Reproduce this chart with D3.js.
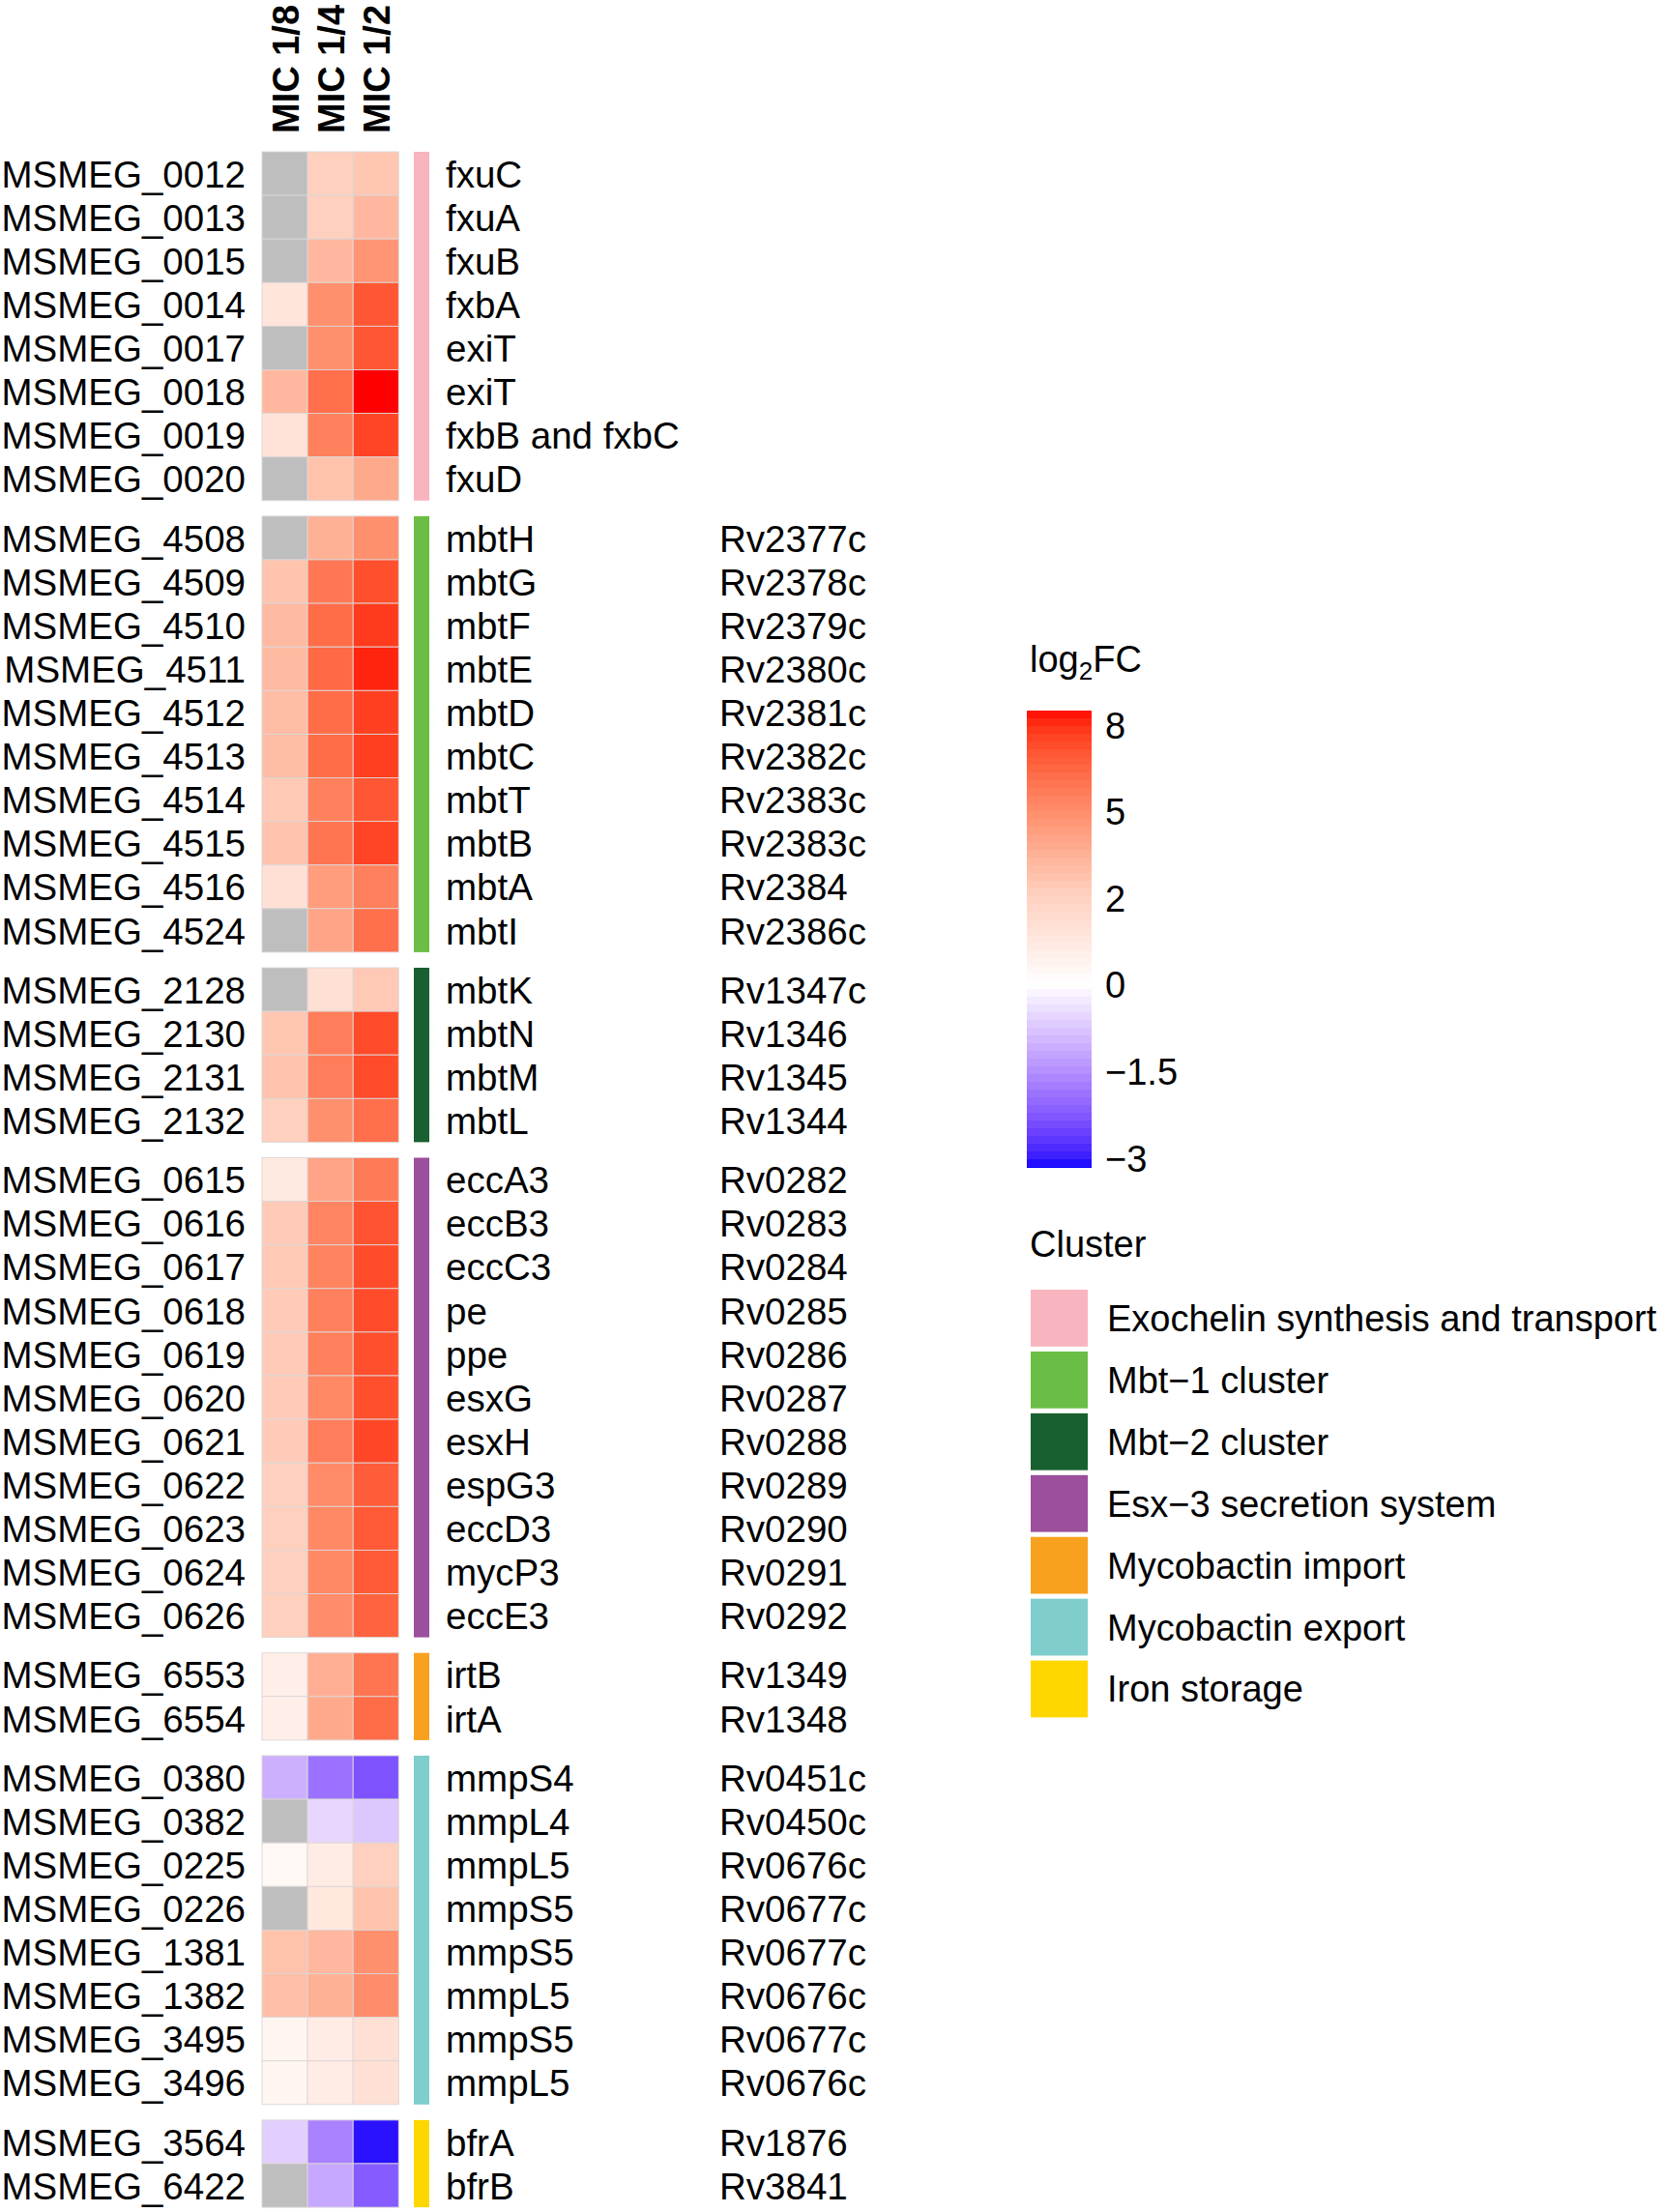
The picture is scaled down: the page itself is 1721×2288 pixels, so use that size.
<!DOCTYPE html>
<html>
<head>
<meta charset="utf-8">
<script src="https://cdn.jsdelivr.net/npm/d3@7"></script>
<style>
  body { margin: 0; background: #fff; }
  svg text { font-family: "Liberation Sans", Arial, Helvetica, sans-serif; fill: #000; }
</style>
</head>
<body>
<svg id="chart" width="1721" height="2288"></svg>
<script>
// columns of the heatmap
const conditions = ['MIC 1/8', 'MIC 1/4', 'MIC 1/2'];

// clusters (row annotation)
const clusterNames = ['Exochelin synthesis and transport', 'Mbt\u22121 cluster', 'Mbt\u22122 cluster',
  'Esx\u22123 secretion system', 'Mycobactin import', 'Mycobactin export', 'Iron storage'];
const clusterColors = ['#F8B4BF', '#6BBE45', '#18602F', '#9B4F9C', '#F7A11F', '#80CDCD', '#FFD700'];

// rows
const geneIds = ['MSMEG_0012','MSMEG_0013','MSMEG_0015','MSMEG_0014','MSMEG_0017','MSMEG_0018','MSMEG_0019','MSMEG_0020',
  'MSMEG_4508','MSMEG_4509','MSMEG_4510','MSMEG_4511','MSMEG_4512','MSMEG_4513','MSMEG_4514','MSMEG_4515','MSMEG_4516','MSMEG_4524',
  'MSMEG_2128','MSMEG_2130','MSMEG_2131','MSMEG_2132',
  'MSMEG_0615','MSMEG_0616','MSMEG_0617','MSMEG_0618','MSMEG_0619','MSMEG_0620','MSMEG_0621','MSMEG_0622','MSMEG_0623','MSMEG_0624','MSMEG_0626',
  'MSMEG_6553','MSMEG_6554',
  'MSMEG_0380','MSMEG_0382','MSMEG_0225','MSMEG_0226','MSMEG_1381','MSMEG_1382','MSMEG_3495','MSMEG_3496',
  'MSMEG_3564','MSMEG_6422'];
const geneNames = ['fxuC','fxuA','fxuB','fxbA','exiT','exiT','fxbB and fxbC','fxuD',
  'mbtH','mbtG','mbtF','mbtE','mbtD','mbtC','mbtT','mbtB','mbtA','mbtI',
  'mbtK','mbtN','mbtM','mbtL',
  'eccA3','eccB3','eccC3','pe','ppe','esxG','esxH','espG3','eccD3','mycP3','eccE3',
  'irtB','irtA',
  'mmpS4','mmpL4','mmpL5','mmpS5','mmpS5','mmpL5','mmpS5','mmpL5',
  'bfrA','bfrB'];
const rvIds = ['','','','','','','','',
  'Rv2377c','Rv2378c','Rv2379c','Rv2380c','Rv2381c','Rv2382c','Rv2383c','Rv2383c','Rv2384','Rv2386c',
  'Rv1347c','Rv1346','Rv1345','Rv1344',
  'Rv0282','Rv0283','Rv0284','Rv0285','Rv0286','Rv0287','Rv0288','Rv0289','Rv0290','Rv0291','Rv0292',
  'Rv1349','Rv1348',
  'Rv0451c','Rv0450c','Rv0676c','Rv0677c','Rv0677c','Rv0676c','Rv0677c','Rv0676c',
  'Rv1876','Rv3841'];
const clusterOf = [0,0,0,0,0,0,0,0, 1,1,1,1,1,1,1,1,1,1, 2,2,2,2, 3,3,3,3,3,3,3,3,3,3,3, 4,4, 5,5,5,5,5,5,5,5, 6,6];

// log2FC values (null = not available)
const mic18 = [null,null,null,1.1,null,3.0,1.2,null,
  null,2.5,2.9,2.9,2.8,2.8,2.3,2.5,1.3,null,
  null,2.4,2.5,2.0,
  0.9,2.2,2.3,2.2,2.2,2.2,2.2,2.0,2.0,2.0,2.0,
  0.7,0.7,
  -1.0,null,0.3,null,2.6,2.7,0.4,0.4,
  -0.6,null];
const mic14 = [2.0,2.0,3.0,4.6,4.6,5.8,5.2,2.6,
  3.3,5.5,5.9,6.0,5.9,5.9,5.2,5.6,4.1,3.8,
  1.3,5.3,5.3,4.6,
  3.8,5.0,5.1,5.2,5.2,4.9,5.3,4.8,4.9,4.9,4.7,
  3.4,3.6,
  -1.8,-0.5,0.8,1.0,3.0,3.3,0.8,0.8,
  -1.6,-1.1];
const mic12 = [2.4,3.0,4.4,6.6,6.6,8.0,7.1,3.6,
  4.6,6.8,7.3,7.7,7.2,7.2,6.6,7.1,5.2,5.8,
  2.3,6.9,6.9,5.8,
  5.4,6.7,6.9,6.9,6.8,6.8,7.0,6.4,6.5,6.5,6.2,
  5.6,5.9,
  -2.2,-0.7,2.0,2.5,4.6,4.7,1.3,1.3,
  -2.9,-2.1];

// colour legend breaks
const legendBreaks = [8, 5, 2, 0, -1.5, -3];

const svg = d3.select('#chart');
const fs = 38.5;
const naColor = '#BEBEBE';

const color = d3.scaleLinear()
  .domain([-3, 0, 8])
  .range(['#0000FF', '#FFFFFF', '#FF0000'])
  .interpolate(d3.interpolateLab)
  .clamp(true);

// heatmap layout
const hmLeft = 271, colW = 47.1;
const hmTop = 157, rowH = 45.1, gap = 16.1;

const x = d3.scaleBand().domain(conditions).range([hmLeft, hmLeft + colW * conditions.length]);

const rows = geneIds.map((id, i) => ({
  id: id, name: geneNames[i], rv: rvIds[i], cluster: clusterOf[i],
  values: [mic18[i], mic14[i], mic12[i]]
}));

// one band scale per cluster block
const groups = d3.groups(rows, d => d.cluster);
let cursor = hmTop;
const blocks = groups.map(([c, rs]) => {
  const y = d3.scaleBand().domain(rs.map(r => r.id)).range([cursor, cursor + rs.length * rowH]);
  cursor += rs.length * rowH + gap;
  return {cluster: c, rows: rs, y: y};
});

blocks.forEach(b => {
  const g = svg.append('g');

  b.rows.forEach(r => {
    g.selectAll(null)
      .data(conditions.map((c, j) => ({c: c, v: r.values[j]})))
      .enter()
      .append('rect')
      .attr('x', d => x(d.c))
      .attr('y', b.y(r.id))
      .attr('width', x.bandwidth())
      .attr('height', b.y.bandwidth())
      .style('fill', d => d.v === null ? naColor : color(d.v))
      .style('stroke', '#dcd6d6')
      .style('stroke-width', 0.9);
  });

  // annotation bar
  g.append('rect')
    .attr('x', 428)
    .attr('y', b.y.range()[0])
    .attr('width', 16)
    .attr('height', b.y.range()[1] - b.y.range()[0])
    .style('fill', clusterColors[b.cluster]);

  // row labels
  g.selectAll('.rowlab')
    .data(b.rows)
    .enter()
    .append('text')
    .attr('x', 254)
    .attr('y', d => b.y(d.id) + b.y.bandwidth() / 2 + fs * 0.37)
    .attr('text-anchor', 'end')
    .style('font-size', fs + 'px')
    .text(d => d.id);

  g.selectAll('.genelab')
    .data(b.rows)
    .enter()
    .append('text')
    .attr('x', 461)
    .attr('y', d => b.y(d.id) + b.y.bandwidth() / 2 + fs * 0.37)
    .style('font-size', fs + 'px')
    .text(d => d.name);

  g.selectAll('.rvlab')
    .data(b.rows)
    .enter()
    .append('text')
    .attr('x', 744)
    .attr('y', d => b.y(d.id) + b.y.bandwidth() / 2 + fs * 0.37)
    .style('font-size', fs + 'px')
    .text(d => d.rv);
});

// column titles
svg.selectAll('.coltitle')
  .data(conditions)
  .enter()
  .append('text')
  .attr('transform', d => 'translate(' + (x(d) + x.bandwidth() / 2 + 14) + ',138) rotate(-90)')
  .style('font-size', '38px')
  .style('font-weight', 'bold')
  .text(d => d);

// log2FC legend
const lgX = 1062, barW = 67, barTop = 735, barBottom = 1207.5;
const title1 = svg.append('text')
  .attr('x', 1065)
  .attr('y', 695)
  .style('font-size', '38px');
title1.append('tspan').text('log');
title1.append('tspan').attr('dy', 8).style('font-size', '26px').text('2');
title1.append('tspan').attr('dy', -8).text('FC');

// evenly spaced breaks along the bar
const barPos = d3.scalePoint().domain(legendBreaks).range([barTop, barBottom]);
const posToValue = d3.scaleLinear()
  .domain(legendBreaks.map(v => barPos(v)))
  .range(legendBreaks);

const step = 8;
const bands = d3.range(barTop, barBottom, step);
svg.append('g').selectAll('rect')
  .data(bands)
  .enter()
  .append('rect')
  .attr('x', lgX)
  .attr('y', d => d)
  .attr('width', barW)
  .attr('height', d => Math.min(step, barBottom - d) + 0.5)
  .style('fill', d => color(posToValue(d + step / 2)))
  .style('shape-rendering', 'crispEdges');

const labelPos = d3.scalePoint().domain(legendBreaks).range([750, 1198]);
svg.append('g').selectAll('text')
  .data(legendBreaks)
  .enter()
  .append('text')
  .attr('x', 1143)
  .attr('y', d => labelPos(d) + 13.5)
  .style('font-size', '38px')
  .text(d => d < 0 ? '\u2212' + Math.abs(d) : d);

// cluster legend
svg.append('text')
  .attr('x', 1065)
  .attr('y', 1300)
  .style('font-size', '38px')
  .text('Cluster');

const swatch = d3.scaleBand().domain(d3.range(clusterNames.length)).range([1334, 1334 + 63.2 * clusterNames.length]).paddingInner(0.08);

const lg = svg.append('g');
lg.selectAll('rect')
  .data(clusterNames)
  .enter()
  .append('rect')
  .attr('x', 1066)
  .attr('y', (d, i) => swatch(i))
  .attr('width', 59)
  .attr('height', swatch.bandwidth())
  .style('fill', (d, i) => clusterColors[i]);

lg.selectAll('text')
  .data(clusterNames)
  .enter()
  .append('text')
  .attr('x', 1145)
  .attr('y', (d, i) => swatch(i) + swatch.bandwidth() / 2 + 13.5)
  .style('font-size', '38px')
  .text(d => d);
</script>
</body>
</html>
